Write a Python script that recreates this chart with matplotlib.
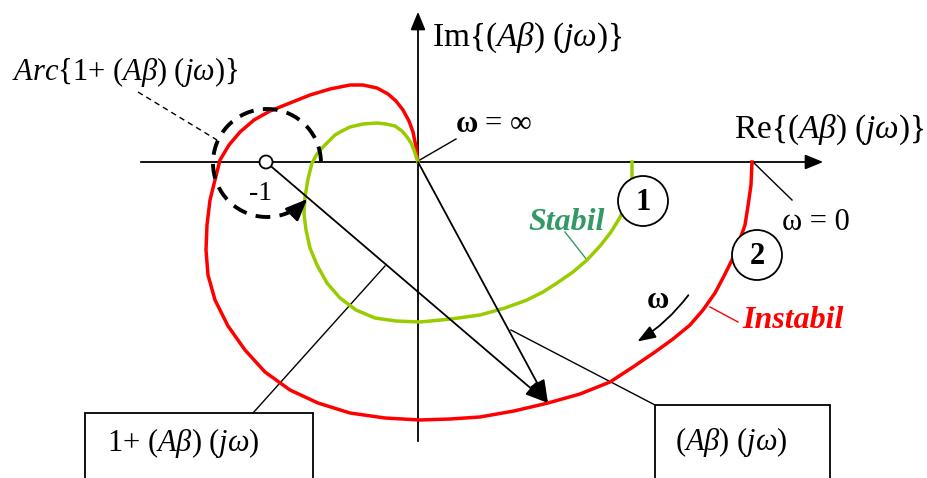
import numpy as np
import matplotlib
matplotlib.use("Agg")
import matplotlib.pyplot as plt
from matplotlib.patches import Circle, Arc, Rectangle

plt.rcParams['font.family'] = ['Liberation Serif', 'DejaVu Serif']
plt.rcParams['mathtext.fontset'] = 'custom'
plt.rcParams['mathtext.rm'] = 'Liberation Serif'
plt.rcParams['mathtext.it'] = 'Liberation Serif:italic'
plt.rcParams['mathtext.bf'] = 'Liberation Serif:bold'

# Nyquist loci (Re, Im), from omega = 0 to omega = inf
red_re = [334, 333, 330, 327, 321, 315, 306, 297, 285, 272, 255, 237, 215, 192, 162,
          130, 96, 62, 32, 2, -33, -68, -100, -128, -153, -173, -190, -203, -210,
          -212, -211, -208, -203, -198, -189, -178, -164, -148, -128, -108, -88,
          -68, -55, -41, -30, -22, -15, -9, -5, -2, 0]
red_im = [0, -23, -44, -63, -80, -96, -114, -131, -148, -163, -177, -190, -205, -220, -232,
          -241, -249, -255, -257, -258, -256, -251, -241, -228, -210, -188, -164, -138, -113,
          -88, -63, -38, -18, 2, 17, 30, 42, 51, 59, 67, 73, 77, 77, 74, 68, 61, 52, 41,
          30, 15, 0]
green_re = [214, 214, 212, 208, 201, 193, 182, 169, 155, 139, 125, 109, 87, 62, 33, 2, -22,
            -43, -62, -78, -91, -101, -108, -112, -114, -113, -110, -106, -101, -95, -89, -83,
            -76, -68, -55, -41, -32, -23, -16, -11, -7, -4, 0]
green_im = [0, -16, -30, -43, -57, -70, -84, -98, -110, -121, -130, -138, -146, -153, -157,
            -160, -159, -156, -148, -136, -121, -103, -86, -68, -52, -35, -17, -1, 8, 15, 21,
            27, 31, 35, 38, 39, 38, 36, 31, 25, 19, 12, 0]

minus_one = (-152, 0)
vector_tip = (130, -241)

fig = plt.figure(figsize=(9.27, 4.78), dpi=100)
ax = fig.add_axes([0, 0, 1, 1])
ax.set_xlim(-418, 509)
ax.set_ylim(-316, 162)
ax.axis('off')

# axes with arrow heads
ax.annotate('', xy=(408, 0), xytext=(-280, 0),
            arrowprops=dict(arrowstyle='-|>,head_length=1.1,head_width=0.45', color='black', lw=1.3))
ax.annotate('', xy=(0, 153), xytext=(0, -282),
            arrowprops=dict(arrowstyle='-|>,head_length=1.1,head_width=0.45', color='black', lw=1.3))

ax.plot(red_re, red_im, color='#ff0000', lw=2.5, solid_joinstyle='round', zorder=3)
ax.plot(green_re, green_im, color='#99cc00', lw=2.5, solid_joinstyle='round', zorder=3)

# vectors to the same point of the locus
for start in [minus_one, (0, 0)]:
    ax.annotate('', xy=vector_tip, xytext=start,
                arrowprops=dict(arrowstyle='-|>,head_length=1.4,head_width=0.5',
                                color='black', lw=1.3, shrinkA=0, shrinkB=0), zorder=4)

# dashed arc around -1
arc_c = (-151, -1)
arc_r = 54
ax.add_patch(Arc(arc_c, 2 * arc_r, 2 * arc_r, theta1=2, theta2=311, color='black',
                 lw=2.8, linestyle=(0, (3.8, 2.4)), zorder=4))
t = np.deg2rad(312)
ax.annotate('', xy=(arc_c[0] + arc_r * np.cos(t) + 4, arc_c[1] + arc_r * np.sin(t) + 4),
            xytext=(arc_c[0] + arc_r * np.cos(t), arc_c[1] + arc_r * np.sin(t)),
            arrowprops=dict(arrowstyle='-|>,head_length=1.3,head_width=0.55', color='black',
                            lw=2, shrinkA=0, shrinkB=0), zorder=4)
ax.plot([-280, -201], [70, 22], color='black', lw=1, linestyle=(0, (4, 3)))
ax.add_patch(Circle(minus_one, 6.5, facecolor='white', edgecolor='black', lw=1.3, zorder=5))
ax.text(-157, -31, '-1', fontsize=20, ha='center', va='center')

# leader lines
ax.plot([0, 38], [1, 23], color='black', lw=1)
ax.plot([335, 374], [0, -38], color='black', lw=1)
ax.plot([-165, -33], [-251, -104], color='black', lw=1)
ax.plot([237, 93], [-243, -168], color='black', lw=1)
ax.plot([147, 169], [-70, -98], color='#339966', lw=1)
ax.plot([292, 320], [-145, -160], color='#ff0000', lw=1)

# numbered markers
for (cx, cy), num in [((225, -39), '1'), ((339, -93), '2')]:
    ax.add_patch(Circle((cx, cy), 25, facecolor='white', edgecolor='black', lw=1.3, zorder=5))
    ax.text(cx, cy - 2, num, fontsize=22, fontweight='bold', ha='center', va='center', zorder=6)

# boxes
ax.add_patch(Rectangle((-333, -330), 228, 79, facecolor='white', edgecolor='black', lw=1.3))
ax.add_patch(Rectangle((237, -330), 175, 87, facecolor='white', edgecolor='black', lw=1.3))

beta_omega = r'$(A\beta)\ (j\omega)$'
ax.text(14, 124, 'Im{' + beta_omega + '}', fontsize=24, ha='left', va='center')
ax.text(316, 32, 'Re{' + beta_omega + '}', fontsize=24, ha='left', va='center')
ax.text(-406, 90, r'$Arc$' + '{1+ ' + beta_omega + '}', fontsize=22, ha='left', va='center')
ax.text(-311, -281, '1+ ' + beta_omega, fontsize=22, ha='left', va='center')
ax.text(257, -280, beta_omega, fontsize=22, ha='left', va='center')
ax.text(37, 37, r'$\mathbf{ω}$ = ∞', fontsize=22, ha='left', va='center')
ax.text(398, -60, 'ω = 0', fontsize=22, ha='center', va='center')
ax.text(149, -60, 'Stabil', fontsize=23, fontweight='bold', fontstyle='italic',
        color='#339966', ha='center', va='center')
ax.text(375, -158, 'Instabil', fontsize=23, fontweight='bold', fontstyle='italic',
        color='#ff0000', ha='center', va='center')
ax.text(240, -138, 'ω', fontsize=22, fontweight='bold', ha='center', va='center')
ax.annotate('', xy=(217, -181), xytext=(272, -131),
            arrowprops=dict(arrowstyle='-|>,head_length=1.1,head_width=0.4', color='black',
                            lw=1.3, connectionstyle='arc3,rad=-0.1'))

fig.savefig('out.png', dpi=100)
